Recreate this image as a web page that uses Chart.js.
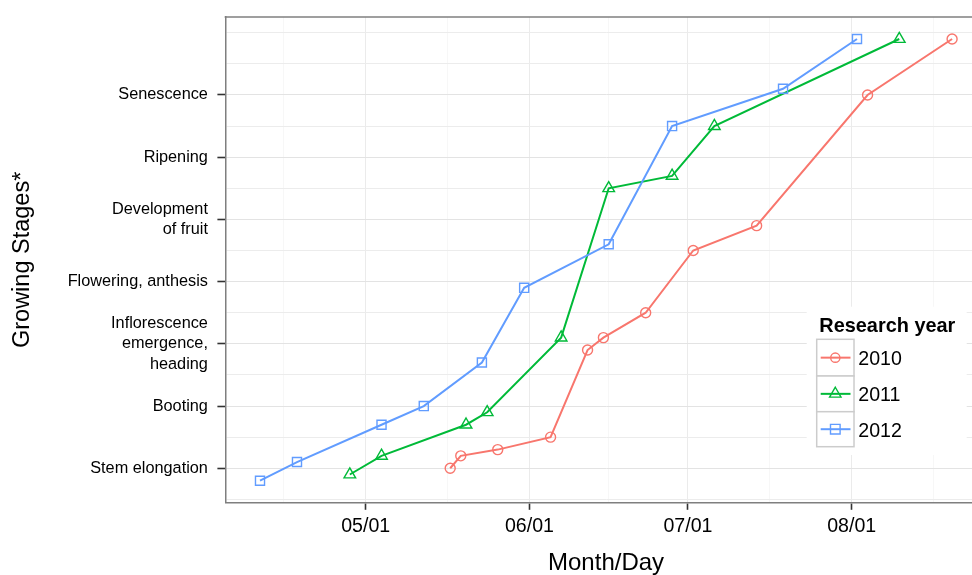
<!DOCTYPE html>
<html>
<head>
<meta charset="utf-8">
<script src="https://cdn.jsdelivr.net/npm/chart.js@4.4.1/dist/chart.umd.min.js"></script>
<style>
html,body{margin:0;padding:0;background:#fff;overflow:hidden;}
#wrap{position:relative;width:1000px;height:575px;}
</style>
</head>
<body>
<div id="wrap"><canvas id="c"></canvas></div>
<script>
// ---- data ----
const stageLabels = ['Stem elongation', 'Booting', 'Inflorescence\nemergence,\nheading', 'Flowering, anthesis', 'Development\nof fruit', 'Ripening', 'Senescence'];
const stageCodes = [30, 40, 50, 60, 70, 80, 90];
const monthTicks = ['05/01', '06/01', '07/01', '08/01'];
const years = ['2010', '2011', '2012'];

const dates2010 = ['05/17', '05/19', '05/26', '06/05', '06/12', '06/15', '06/23', '07/02', '07/14', '08/04', '08/20'];
const stage2010 = [30, 32, 33, 35, 49, 51, 55, 65, 69, 90, 99];

const dates2011 = ['04/28', '05/04', '05/20', '05/24', '06/07', '06/16', '06/28', '07/06', '08/10'];
const stage2011 = [29, 32, 37, 39, 51, 75, 77, 85, 99];

const dates2012 = ['04/11', '04/18', '05/04', '05/12', '05/23', '05/31', '06/16', '06/28', '07/19', '08/02'];
const stage2012 = [28, 31, 37, 40, 47, 59, 66, 85, 91, 99];

const colors = ['#F8766D', '#00BA38', '#619CFF'];
const shapes = ['circle', 'triangle', 'rect'];
const shapeRadius = [5, 6.7, 6.4];

// ---- helpers ----
function doy(s) {
  const [m, d] = s.split('/').map(Number);
  return (Date.UTC(2001, m - 1, d) - Date.UTC(2001, 0, 0)) / 864e5;
}
const seriesDates = [dates2010, dates2011, dates2012];
const seriesStages = [stage2010, stage2011, stage2012];

const allX = seriesDates.flat().map(doy);
const allY = seriesStages.flat();
function expanded(arr) {
  const lo = Math.min(...arr), hi = Math.max(...arr), e = (hi - lo) * 0.05;
  return [lo - e, hi + e];
}
const [xMin, xMax] = expanded(allX);
const [yMin, yMax] = expanded(allY);

const xMajors = monthTicks.map(doy);
const yMajors = stageCodes.slice();
function withMinors(b, lo, hi) {
  b = b.slice();
  const bd = b[1] - b[0];
  if (lo < b[0]) b.unshift(b[0] - bd);
  if (hi > b[b.length - 1]) b.push(b[b.length - 1] + bd);
  const out = [];
  for (let i = 0; i < b.length - 1; i++) { out.push(b[i], (b[i] + b[i + 1]) / 2); }
  out.push(b[b.length - 1]);
  return out.filter(v => v >= lo && v <= hi);
}
const xAllTicks = withMinors(xMajors, xMin, xMax);
const yAllTicks = withMinors(yMajors, yMin, yMax);

const FONT = "'Liberation Sans', Arial, Helvetica, sans-serif";

const datasets = years.map((y, i) => ({
  label: y,
  data: seriesDates[i].map((d, j) => ({ x: doy(d), y: seriesStages[i][j] })),
  borderColor: colors[i],
  backgroundColor: 'rgba(0,0,0,0)',
  pointBorderColor: colors[i],
  pointBackgroundColor: 'rgba(0,0,0,0)',
  pointStyle: shapes[i],
  pointRadius: shapeRadius[i],
  pointBorderWidth: 1.4,
  borderWidth: 2,
  tension: 0,
  order: 3 - i,
  clip: false
}));

function drawShape(ctx, shape, x, y, r) {
  ctx.beginPath();
  if (shape === 'circle') {
    ctx.arc(x, y, r, 0, Math.PI * 2);
  } else if (shape === 'rect') {
    const s = Math.SQRT1_2 * r;
    ctx.rect(x - s, y - s, 2 * s, 2 * s);
  } else {
    let rad = 0;
    ctx.moveTo(x + Math.sin(rad) * r, y - Math.cos(rad) * r);
    rad += 2 * Math.PI / 3;
    ctx.lineTo(x + Math.sin(rad) * r, y - Math.cos(rad) * r);
    rad += 2 * Math.PI / 3;
    ctx.lineTo(x + Math.sin(rad) * r, y - Math.cos(rad) * r);
    ctx.closePath();
  }
  ctx.stroke();
}

const deco = {
  id: 'deco',
  afterDraw(chart) {
    const { ctx, chartArea: a } = chart;
    ctx.save();
    // top panel border
    ctx.strokeStyle = '#7f7f7f';
    ctx.lineWidth = 1.5;
    ctx.beginPath();
    ctx.moveTo(a.left - 0.75, a.top);
    ctx.lineTo(a.right + 1, a.top);
    ctx.stroke();

    // legend
    const lx = 806.7, ly = 306.7, lw = 160, lh = 148.3;
    ctx.fillStyle = '#ffffff';
    ctx.fillRect(lx, ly, lw, lh);
    ctx.fillStyle = '#000000';
    ctx.font = 'bold 19.9px ' + FONT;
    ctx.textAlign = 'left';
    ctx.textBaseline = 'alphabetic';
    ctx.fillText('Research year', 819.3, 331.7);

    const rows = [339.3, 376, 411.7, 446.7];
    for (let i = 0; i < years.length; i++) {
      const y0 = rows[i], y1 = rows[i + 1], cy = (y0 + y1) / 2;
      ctx.fillStyle = '#ffffff';
      ctx.fillRect(816.7, y0, 37.3, y1 - y0);
      ctx.strokeStyle = '#cccccc';
      ctx.lineWidth = 1.5;
      ctx.strokeRect(816.7, y0, 37.3, y1 - y0);
      ctx.strokeStyle = colors[i];
      ctx.lineWidth = 2;
      ctx.beginPath();
      ctx.moveTo(820.7, cy);
      ctx.lineTo(850.5, cy);
      ctx.stroke();
      ctx.lineWidth = 1.4;
      drawShape(ctx, shapes[i], 835.3, cy, i === 0 ? 4.6 : (i === 1 ? 6.6 : 6.8));
      ctx.fillStyle = '#000000';
      ctx.font = '19.6px ' + FONT;
      ctx.fillText(years[i], 858.3, cy + 7.3);
    }
    ctx.restore();
  }
};

new Chart(document.getElementById('c'), {
  type: 'line',
  data: { datasets },
  plugins: [deco],
  options: {
    responsive: true,
    maintainAspectRatio: false,
    animation: false,
    events: [],
    layout: { padding: { top: 16.9, right: 13.3, left: 0, bottom: 0 } },
    plugins: { legend: { display: false }, tooltip: { enabled: false } },
    scales: {
      x: {
        type: 'linear',
        min: xMin,
        max: xMax,
        afterBuildTicks(scale) { scale.ticks = xAllTicks.map(v => ({ value: v })); },
        afterFit(scale) { scale.height = 72.2; scale.paddingLeft = 0; scale.paddingRight = 0; },
        ticks: {
          autoSkip: false,
          maxRotation: 0,
          padding: 5,
          color: '#000000',
          font: { family: FONT, size: 19.6 },
          callback(value) {
            const i = xMajors.indexOf(value);
            return i >= 0 ? monthTicks[i] : '';
          }
        },
        grid: {
          color(ctx) {
            return ctx.tick && xMajors.includes(ctx.tick.value) ? '#ebebeb' : '#f7f7f7';
          },
          lineWidth: 1,
          tickLength: 7,
          tickColor(ctx) {
            return ctx.tick && xMajors.includes(ctx.tick.value) ? '#333333' : 'rgba(0,0,0,0)';
          },
          tickWidth: 1.6
        },
        border: { display: true, color: '#7f7f7f', width: 1.5 },
        title: {
          display: true,
          text: 'Month/Day',
          color: '#000000',
          font: { family: FONT, size: 24, lineHeight: 1 },
          padding: { top: 0, bottom: 0 }
        }
      },
      y: {
        type: 'linear',
        min: yMin,
        max: yMax,
        afterBuildTicks(scale) { scale.ticks = yAllTicks.map(v => ({ value: v })); },
        afterFit(scale) { scale.width = 225.4; scale.paddingTop = 0; scale.paddingBottom = 0; },
        ticks: {
          autoSkip: false,
          padding: 9.5,
          color: '#000000',
          font: { family: FONT, size: 16.3, lineHeight: 1.27 },
          callback(value) {
            const i = yMajors.indexOf(value);
            return i >= 0 ? stageLabels[i].split('\n') : '';
          }
        },
        grid: {
          color(ctx) {
            return ctx.tick && yMajors.includes(ctx.tick.value) ? '#e3e3e3' : '#ececec';
          },
          lineWidth: 1,
          tickLength: 8,
          tickColor(ctx) {
            return ctx.tick && yMajors.includes(ctx.tick.value) ? '#333333' : 'rgba(0,0,0,0)';
          },
          tickWidth: 1.6
        },
        border: { display: true, color: '#7f7f7f', width: 1.5 },
        title: {
          display: true,
          text: 'Growing Stages*',
          color: '#000000',
          font: { family: FONT, size: 23.5, lineHeight: 1.2 },
          padding: { top: 8.8, bottom: 0 }
        }
      }
    }
  }
});
</script>
</body>
</html>
